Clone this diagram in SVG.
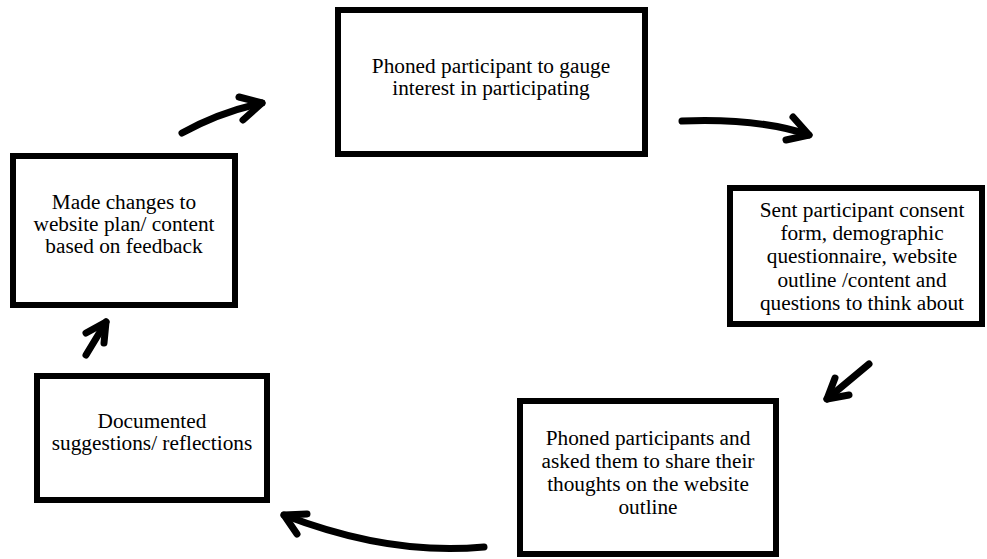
<svg xmlns="http://www.w3.org/2000/svg" width="987" height="559" viewBox="0 0 987 559">
  <style>
    .box { fill: #ffffff; stroke: #000000; stroke-width: 6; }
    .label { font-family: "Liberation Serif", "Times New Roman", serif; font-size: 21.3px; fill: #000000; text-anchor: middle; }
    .arrow { fill: none; stroke: #000000; stroke-width: 7; stroke-linecap: round; stroke-linejoin: round; }
  </style>
  <rect width="987" height="559" fill="#ffffff"/>

  <g id="node-phoned-interest">
    <rect class="box" x="338" y="10" width="307" height="144"/>
    <text class="label" x="491" y="73">Phoned participant to gauge</text>
    <text class="label" x="491" y="95">interest in participating</text>
  </g>

  <g id="node-sent-consent">
    <rect class="box" x="730" y="188" width="252" height="136"/>
    <text class="label" x="862" y="217">Sent participant consent</text>
    <text class="label" x="862" y="240">form, demographic</text>
    <text class="label" x="862" y="263">questionnaire, website</text>
    <text class="label" x="862" y="287">outline /content and</text>
    <text class="label" x="862" y="310">questions to think about</text>
  </g>

  <g id="node-phoned-thoughts">
    <rect class="box" x="520" y="401" width="256" height="153"/>
    <text class="label" x="648" y="445">Phoned participants and</text>
    <text class="label" x="648" y="468">asked them to share their</text>
    <text class="label" x="648" y="491">thoughts on the website</text>
    <text class="label" x="648" y="514">outline</text>
  </g>

  <g id="node-documented">
    <rect class="box" x="37" y="376" width="230" height="124"/>
    <text class="label" x="152" y="428">Documented</text>
    <text class="label" x="152" y="450">suggestions/ reflections</text>
  </g>

  <g id="node-made-changes">
    <rect class="box" x="13" y="156" width="222" height="149"/>
    <text class="label" x="124" y="209">Made changes to</text>
    <text class="label" x="124" y="231">website plan/ content</text>
    <text class="label" x="124" y="253">based on feedback</text>
  </g>

  <g id="connectors">
    <!-- changes -> phoned interest -->
    <path class="arrow" d="M182 133 Q220 112 262 103"/>
    <polyline class="arrow" points="239,97 262,103 243,120"/>
    <!-- phoned interest -> sent consent -->
    <path class="arrow" d="M682 121 Q760 118 809 135"/>
    <polyline class="arrow" points="793,117 809,135 786,140"/>
    <!-- sent consent -> phoned thoughts -->
    <path class="arrow" d="M869 364 L827 399"/>
    <polyline class="arrow" points="835,378 827,399 849,395"/>
    <!-- phoned thoughts -> documented -->
    <path class="arrow" d="M484 547 Q390 556 284 515"/>
    <polyline class="arrow" points="307,514 284,515 297,534"/>
    <!-- documented -> changes -->
    <path class="arrow" d="M86 355 L106 322"/>
    <polyline class="arrow" points="86,333 106,322 104,343"/>
  </g>
</svg>
